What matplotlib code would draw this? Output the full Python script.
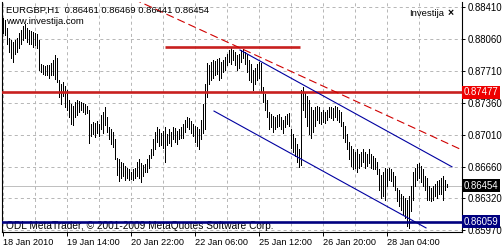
import numpy as np
import matplotlib
matplotlib.use("Agg")
import matplotlib.pyplot as plt
import matplotlib.transforms as mtransforms

plt.rcParams['font.family'] = ['Liberation Sans', 'DejaVu Sans']
plt.rcParams['lines.scale_dashes'] = False

# EURGBP H1 bars, prices in pips (x 1e-4)
high_pips = [8829, 8827, 8818, 8807, 8805, 8803, 8805, 8807, 8812, 8816,
             8820, 8822, 8818, 8816, 8815, 8814, 8813, 8811, 8805, 8779,
             8777, 8776, 8778, 8777, 8780, 8783, 8788, 8785, 8761, 8757,
             8759, 8755, 8750, 8739, 8735, 8733, 8737, 8739, 8738, 8737,
             8736, 8735, 8733, 8728, 8713, 8715, 8714, 8716, 8713, 8723,
             8726, 8732, 8720, 8710, 8707, 8704, 8696, 8676, 8674, 8671,
             8670, 8667, 8665, 8663, 8660, 8663, 8665, 8671, 8674, 8670,
             8668, 8669, 8674, 8679, 8685, 8696, 8704, 8709, 8707, 8703,
             8705, 8709, 8702, 8707, 8704, 8709, 8708, 8705, 8707, 8710,
             8713, 8717, 8720, 8719, 8716, 8713, 8711, 8709, 8707, 8717,
             8735, 8757, 8780, 8777, 8781, 8783, 8782, 8784, 8785, 8781,
             8783, 8786, 8789, 8794, 8796, 8794, 8792, 8788, 8790, 8794,
             8795, 8792, 8789, 8783, 8779, 8772, 8774, 8779, 8781, 8780,
             8753, 8746, 8739, 8726, 8724, 8722, 8720, 8723, 8724, 8720,
             8717, 8722, 8724, 8725, 8707, 8702, 8698, 8691, 8685, 8750,
             8753, 8748, 8744, 8739, 8731, 8728, 8731, 8733, 8731, 8726,
             8728, 8726, 8728, 8731, 8732, 8730, 8733, 8731, 8728, 8726,
             8715, 8711, 8702, 8693, 8689, 8685, 8682, 8685, 8680, 8682,
             8685, 8682, 8680, 8685, 8680, 8678, 8676, 8671, 8663, 8657,
             8660, 8665, 8663, 8665, 8663, 8660, 8656, 8643, 8641, 8636,
             8634, 8632, 8630, 8634, 8645, 8660, 8665, 8669, 8670, 8667,
             8663, 8656, 8654, 8645, 8643, 8645, 8647, 8650, 8652, 8654,
             8656, 8652, 8646.9]
low_pips = [8813, 8810, 8800, 8792, 8785, 8781, 8789, 8792, 8796, 8801,
            8805, 8807, 8803, 8801, 8800, 8797, 8799, 8796, 8772, 8770,
            8768, 8766, 8767, 8763, 8766, 8767, 8762, 8759, 8742, 8735,
            8744, 8731, 8728, 8720, 8713, 8712, 8720, 8723, 8726, 8728,
            8726, 8724, 8725, 8692, 8700, 8702, 8699, 8703, 8700, 8707,
            8703, 8712, 8704, 8696, 8691, 8688, 8674, 8657, 8650, 8654,
            8656, 8652, 8654, 8652, 8653, 8652, 8654, 8656, 8654, 8649,
            8656, 8660, 8660, 8665, 8676, 8679, 8685, 8693, 8689, 8690,
            8687, 8671, 8690, 8692, 8689, 8696, 8693, 8691, 8696, 8697,
            8698, 8704, 8709, 8707, 8703, 8700, 8693, 8689, 8685, 8696,
            8703, 8707, 8742, 8757, 8761, 8763, 8766, 8768, 8761, 8763,
            8770, 8772, 8777, 8781, 8779, 8783, 8777, 8772, 8774, 8781,
            8785, 8779, 8770, 8761, 8759, 8750, 8757, 8761, 8763, 8748,
            8737, 8728, 8720, 8707, 8709, 8704, 8707, 8709, 8711, 8707,
            8703, 8709, 8713, 8711, 8687, 8682, 8678, 8671, 8666, 8668,
            8728, 8720, 8711, 8702, 8698, 8704, 8711, 8717, 8714, 8713,
            8715, 8714, 8717, 8720, 8719, 8717, 8720, 8717, 8715, 8711,
            8698, 8693, 8685, 8674, 8667, 8663, 8665, 8660, 8665, 8667,
            8671, 8665, 8667, 8670, 8665, 8663, 8663, 8658, 8641, 8632,
            8634, 8630, 8645, 8652, 8650, 8645, 8641, 8628, 8623, 8619,
            8614, 8610, 8601, 8599, 8617, 8630, 8645, 8652, 8654, 8649,
            8645, 8641, 8630, 8630, 8628, 8630, 8634, 8632, 8636, 8636,
            8630, 8641, 8644.1]

date_labels = ["18 Jan 2010", "19 Jan 14:00", "20 Jan 22:00", "22 Jan 06:00",
               "25 Jan 12:00", "26 Jan 20:00", "28 Jan 04:00"]
price_ticks = [0.88410, 0.88060, 0.87710, 0.87360, 0.87010, 0.86660, 0.86320, 0.85970]

title_text = "EURGBP,H1  0.86461 0.86469 0.86441 0.86454"
bid = 0.86454
resistance = 0.87477
support = 0.86059
top_level = 0.87968
top_level_span = (81, 148.5)
# trend lines: (bar index, price) anchors
red_trend = [(70, 0.88450), (228, 0.86859)]
chan_upper = [(118.5, 0.87939), (224.5, 0.86659)]
chan_lower = [(105.5, 0.87270), (211.5, 0.85990)]

high = np.array(high_pips) / 10000.0
low = np.array(low_pips) / 10000.0
idx = np.arange(len(high))

W, H = 503, 250
fig = plt.figure(figsize=(W / 100, H / 100), dpi=100)
ax = fig.add_axes([2 / W, 18 / H, 460 / W, 230 / H])
ax.set_xlim(-0.5, 229.5)
ax.set_ylim(0.85945, 0.88465)

# grid
ax.set_xticks(np.arange(len(date_labels)) * 32)
ax.set_xticks(np.arange(16, 230, 32), minor=True)
ax.set_yticks(price_ticks)
ax.grid(True, which='both', axis='x', color='#b8b8b8', lw=0.72, ls=(0, (2.2, 2.2)))
ax.grid(True, which='major', axis='y', color='#b8b8b8', lw=0.72, ls=(0, (2.2, 2.2)))
ax.set_axisbelow(True)

# bid line
ax.axhline(bid, color='#c0c0c0', lw=0.72, zorder=1)

# bars
ax.vlines(idx, low, high, color='black', lw=0.55, antialiased=False, zorder=3)

# horizontal levels
ax.axhline(resistance, color='#c8201f', lw=1.9, zorder=4)
ax.hlines(top_level, *top_level_span, color='#c8201f', lw=1.9, zorder=4)
ax.axhline(support, color='#000080', lw=1.9, zorder=5)


def line_through(p, x0, x1):
    (xa, ya), (xb, yb) = p
    k = (yb - ya) / (xb - xa)
    return [x0, x1], [ya + k * (x0 - xa), ya + k * (x1 - xa)]


xs, ys = line_through(red_trend, 60, 229.5)
ax.plot(xs, ys, color='#d00000', lw=0.8, ls=(0, (5.8, 2.9)), zorder=4)
xs, ys = line_through(chan_upper, chan_upper[0][0], chan_upper[1][0])
ax.plot(xs, ys, color='#0000a0', lw=0.8, zorder=4)
xs, ys = line_through(chan_lower, chan_lower[0][0], chan_lower[1][0])
ax.plot(xs, ys, color='#0000a0', lw=0.8, zorder=4)

# axes styling
for s in ['left', 'right', 'bottom']:
    ax.spines[s].set_color('black')
    ax.spines[s].set_linewidth(0.8)
ax.spines['top'].set_visible(False)
ax.yaxis.tick_right()
ax.tick_params(axis='y', which='major', direction='out', length=2.5, width=0.7,
               labelsize=6.9, pad=1.5)
ax.tick_params(axis='x', which='major', direction='out', length=3, width=0.7,
               labelsize=6.6, pad=1.5)
ax.tick_params(axis='x', which='minor', length=0)
ax.set_yticklabels(["%.5f" % v for v in price_ticks])
ax.set_xticklabels(date_labels, ha='left')

# highlighted price labels
trans = mtransforms.blended_transform_factory(ax.transAxes, ax.transData)
for val, bg in [(resistance, '#ee0000'), (bid, 'black'), (support, '#000080')]:
    ax.text(1.004, val, "%.5f" % val, transform=trans, fontsize=6.9, color='white',
            va='center', ha='left', clip_on=False, zorder=10,
            bbox=dict(boxstyle='square,pad=0.15', fc=bg, ec='none'))

# texts
def px(x, y):
    return x / W, 1 - y / H

fig.text(*px(6, 10.5), title_text, fontsize=6.8, va='center', ha='left')
fig.text(*px(6, 21.5), "www.investija.com", fontsize=6.8, va='center', ha='left')
fig.text(*px(444, 13), "Investija", fontsize=6.8, va='center', ha='right')
fig.text(*px(451, 13), "\u00d7", fontsize=7.5, va='center', ha='center', weight='bold')
ax.text(*ax.transAxes.inverted().transform(fig.transFigure.transform(px(6, 226))),
        "ODL MetaTrader, \u00a9 2001-2009 MetaQuotes Software Corp.",
        transform=ax.transAxes, fontsize=7.3, va='center', ha='left', zorder=2)

fig.savefig("out.png", dpi=100)
